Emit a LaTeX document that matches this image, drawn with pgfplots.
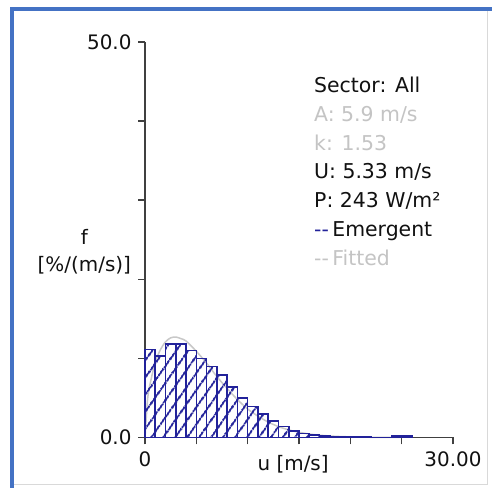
\documentclass[border=0pt]{standalone}
\usepackage{fontspec}
\setmainfont{DejaVu Sans}
\usepackage{pgfplots}
\pgfplotsset{compat=1.18}
\usetikzlibrary{patterns.meta}
\definecolor{barblue}{HTML}{22229A}
\definecolor{fitgray}{HTML}{C8C8C8}
\definecolor{frameblue}{HTML}{4472C4}
\definecolor{txtgray}{HTML}{C4C4C4}
\definecolor{txtdark}{HTML}{111111}
\tikzset{hatch/.style={pattern={Lines[angle=55,distance=10bp,line width=1.7bp]}, pattern color=barblue}}
\begin{document}
\begin{tikzpicture}[x=1bp,y=1bp]
\useasboundingbox (0,0) rectangle (492,488);
\fill[white] (0,0) rectangle (492,488);
% window frame
\draw[black!15, line width=1bp] (12,3) -- (487,3) -- (487,480);
\draw[frameblue, line width=3.5bp] (12,0) -- (12,479) -- (492,479);
\begin{axis}[
  scale only axis, width=308bp, height=395.5bp,
  at={(145bp,50.5bp)}, anchor=south west,
  xmin=0, xmax=30, ymin=0, ymax=50,
  axis lines=left, axis line style={-, line width=1.5bp, color=black!75},
  tick align=outside, major tick length=7bp,
  tick style={line width=1.5bp, color=black!75},
  xtick={0,5,...,30}, xticklabels={0,,,,,,30.00},
  ytick={0,10,...,50}, yticklabels={0.0,,,,,50.0},
  ticklabel style={font=\fontsize{20}{23}\selectfont, text=txtdark},
  xticklabel style={yshift=-4bp},
  yticklabel style={xshift=-3bp},
  xlabel={u [m/s]},
  xlabel style={at={(axis description cs:0.481,0)}, anchor=center, yshift=-27bp,
    font=\fontsize{20}{23}\selectfont, text=txtdark},
  ylabel={f\\{[}\%/(m/s)]},
  ylabel style={rotate=-90, align=center, at={(axis description cs:-0.197,0.469)},
    anchor=center, font=\fontsize{20}{27}\selectfont, text=txtdark},
  clip=false,
]
\addplot[fitgray, line width=1.5bp, smooth, no marks]
  coordinates {(0,0) (0.25,4.8) (0.5,6.8) (1,9.5) (1.5,11.1) (2,12.1) (2.5,12.6)
  (3,12.7) (3.5,12.5) (4,12.2) (5,10.9) (6,9.4) (7,7.7) (8,6.2) (9,4.8)
  (10,3.6) (11,2.7) (12,1.95) (13,1.38) (14,0.96) (15,0.66) (16,0.44)
  (17,0.29) (18,0.19) (19,0.12) (20,0.08) (22,0.03) (25,0.005)};
\addplot[ybar interval, draw=barblue, line width=1.6bp, hatch,
  postaction={hatch}]
  coordinates {(0,11.1) (1,10.3) (2,11.8) (3,11.8) (4,11.0) (5,10.0) (6,9.0)
  (7,7.9) (8,6.4) (9,5.0) (10,3.9) (11,3.0) (12,2.1) (13,1.4) (14,0.8)
  (15,0.5) (16,0.3) (17,0.2) (18,0.1) (19,0.08) (20,0.05) (21,0.03) (22,0.02)
  (23,0.02) (24,0.2) (25,0.2) (26,0)};
\end{axis}
\begin{scope}[every node/.style={anchor=base west, inner sep=0pt, font=\fontsize{20.5}{23}\selectfont}]
\node[text=txtdark] at (314,488-92.5) {Sector: All};
\node[text=txtgray] at (314,488-121.3) {A: 5.9 m/s};
\node[text=txtgray] at (314,488-150.1) {k: 1.53};
\node[text=txtdark] at (314,488-178.9) {U: 5.33 m/s};
\node[text=txtdark] at (314,488-207.7) {P: 243 W/m²};
\node[text=txtdark] at (314,488-236.5) {\textcolor{barblue}{-{}-}\,Emergent};
\node[text=txtgray] at (314,488-265.3) {-{}-\,Fitted};
\end{scope}
\end{tikzpicture}
\end{document}
